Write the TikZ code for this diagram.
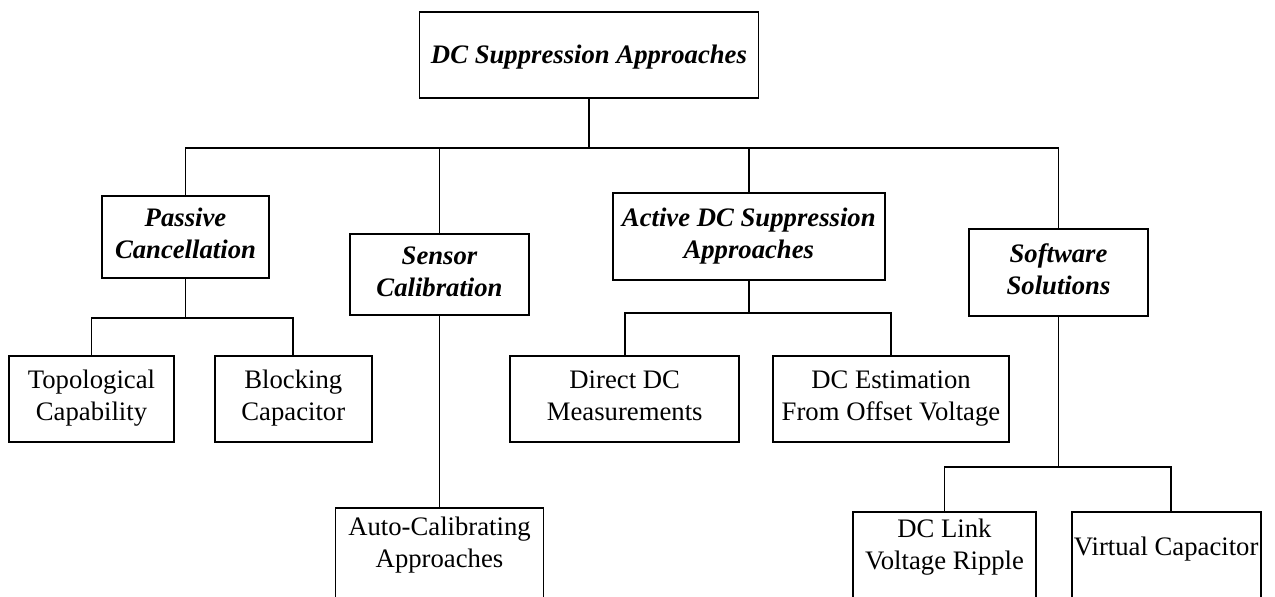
\documentclass[tikz,border=0pt]{standalone}
\usepackage{fontspec}
\setmainfont{Liberation Serif}
\newcommand{\linestrut}{\rule[-6.6pt]{0pt}{30.6pt}}
\begin{document}
\begin{tikzpicture}[x=1pt,y=-1pt,
  txt/.style={inner sep=0pt, align=center, font=\fontsize{26.7}{32}\selectfont,
    execute at begin node=\linestrut, execute at end node=\linestrut},
  box/.style={txt, draw, rectangle, line width=1.8pt},
  head/.style={box, font=\fontsize{26.7}{32}\selectfont\bfseries\itshape},
  link/.style={line width=1.8pt, line join=miter}]
\useasboundingbox (0,0) rectangle (1275,597);
\clip (0,0) rectangle (1275,597);

% root
\node[head, minimum width=339pt, minimum height=86.6pt] (root) at (589,55) {DC Suppression Approaches};

% second level
\node[head, minimum width=167.6pt, minimum height=82pt] (passive) at (185.5,236.7) {Passive\\Cancellation};
\node[head, minimum width=178.7pt, minimum height=81.3pt] (sensor) at (439.5,274.7) {Sensor\\Calibration};
\node[head, minimum width=272.3pt, minimum height=86.7pt] (active) at (748.8,236.7) {Active DC Suppression\\Approaches};
\node[head, minimum width=178.3pt, minimum height=86.4pt] (software) at (1058.5,272.5) {Software\\Solutions};

% leaves
\node[box, minimum width=164.4pt, minimum height=86.6pt] (topo) at (91.5,399) {Topological\\Capability};
\node[box, minimum width=157.3pt, minimum height=86.6pt] (block) at (293.3,399) {Blocking\\Capacitor};
\node[box, minimum width=229.3pt, minimum height=86.3pt] (direct) at (624.7,399) {Direct DC\\Measurements};
\node[box, minimum width=236.6pt, minimum height=86.3pt] (dcest) at (891,399) {DC Estimation\\From Offset Voltage};

% bottom row (boxes run past the lower edge)
\node[box, anchor=north, minimum width=208pt, minimum height=110pt] (auto) at (439.5,507.3) {};
\node[txt] (autotext) at (439.5,545.3) {Auto-Calibrating\\Approaches};
\node[box, anchor=north, minimum width=182.4pt, minimum height=110pt] (dclink) at (944.5,511) {};
\node[txt] (dclinktext) at (944.5,547.3) {DC Link\\Voltage Ripple};
\node[box, anchor=north, minimum width=189pt, minimum height=110pt] (vcap) at (1166.2,511) {};
\node[txt] (vcaptext) at (1166.2,546.3) {Virtual Capacitor};

% bus lines
\coordinate (bus) at (0,148.3);
\coordinate (pbus) at (0,318.3);
\coordinate (abus) at (0,313.3);
\coordinate (sbus) at (0,466.7);
\coordinate (vdrop) at (1170.7,466.7);

\draw[link] (root.south) -- (root.south |- bus);
\draw[link] (passive.north) |- (software.north |- bus) -- (software.north);
\draw[link] (sensor.north) -- (sensor.north |- bus);
\draw[link] (active.north) -- (active.north |- bus);

\draw[link] (passive.south) -- (passive.south |- pbus);
\draw[link] (topo.north) |- (block.north |- pbus) -- (block.north);

\draw[link] (active.south) -- (active.south |- abus);
\draw[link] (direct.north) |- (dcest.north |- abus) -- (dcest.north);

\draw[link] (sensor.south) -- (sensor.south |- auto.north);

\draw[link] (software.south) -- (software.south |- sbus);
\draw[link] (dclink.north) |- (vdrop) -- (vdrop |- vcap.north);
\end{tikzpicture}
\end{document}
